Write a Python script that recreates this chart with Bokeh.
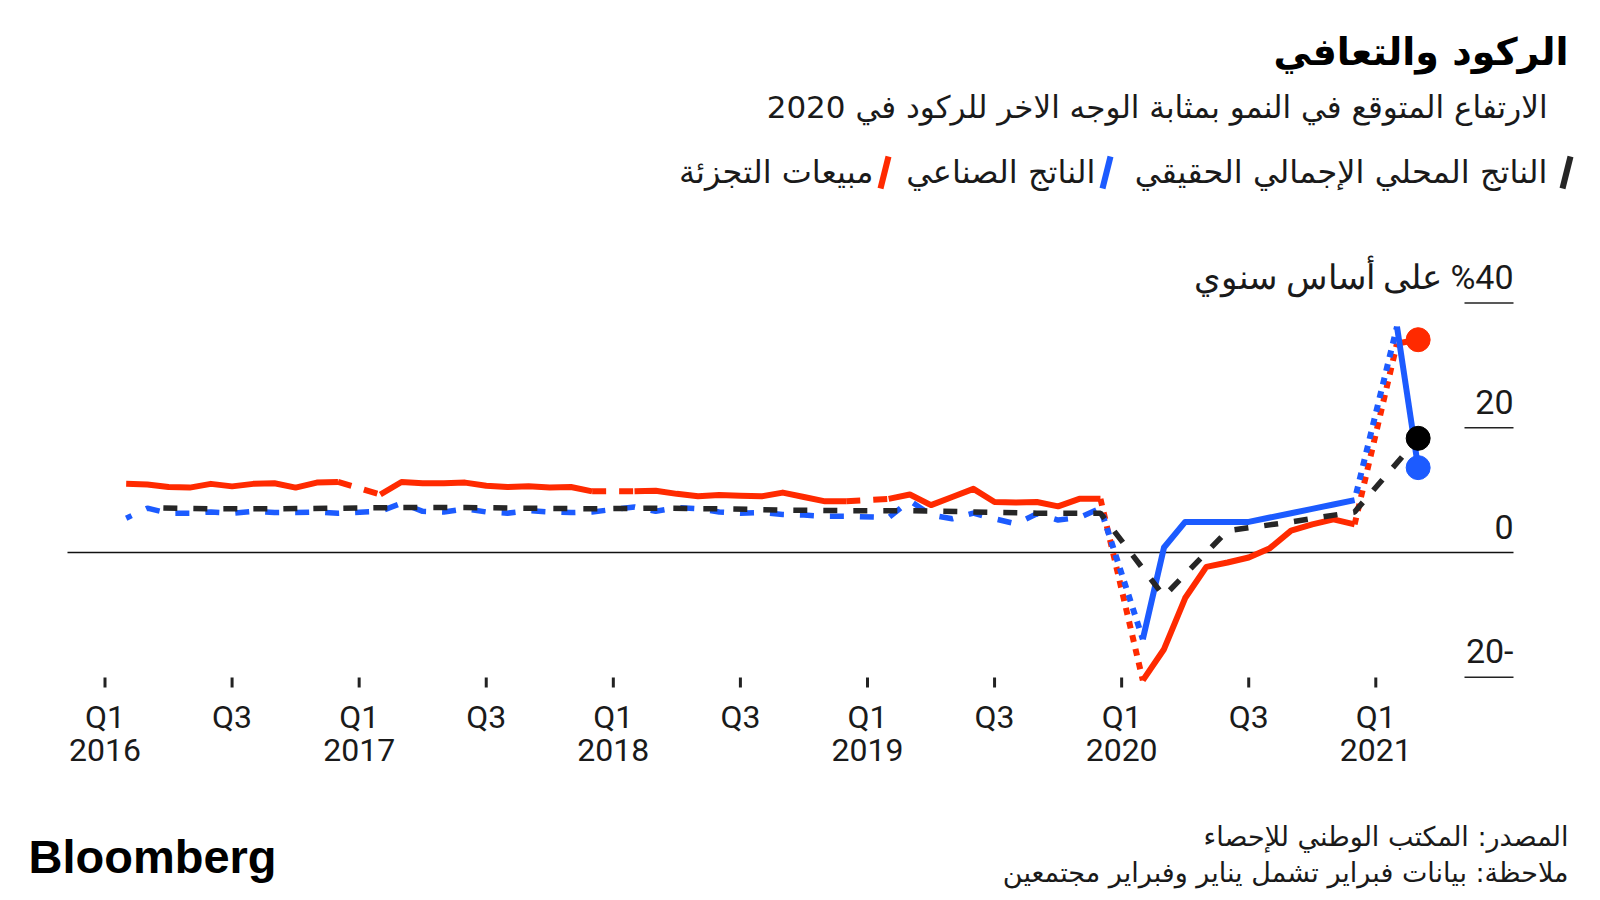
from bokeh.plotting import figure
from bokeh.models import Range1d
from bokeh.core.properties import value
from bokeh.embed import file_html
from bokeh.resources import INLINE

# ---------------- data ----------------
months = [
    "2016-02", "2016-03", "2016-04", "2016-05", "2016-06", "2016-07", "2016-08", "2016-09", "2016-10", "2016-11", "2016-12",
    "2017-02", "2017-03", "2017-04", "2017-05", "2017-06", "2017-07", "2017-08", "2017-09", "2017-10", "2017-11", "2017-12",
    "2018-02", "2018-03", "2018-04", "2018-05", "2018-06", "2018-07", "2018-08", "2018-09", "2018-10", "2018-11", "2018-12",
    "2019-02", "2019-03", "2019-04", "2019-05", "2019-06", "2019-07", "2019-08", "2019-09", "2019-10", "2019-11", "2019-12",
    "2020-02", "2020-03", "2020-04", "2020-05", "2020-06", "2020-07", "2020-08", "2020-09", "2020-10", "2020-11", "2020-12",
    "2021-02", "2021-03",
]
retail_sales = [
    11.0, 10.9, 10.5, 10.4, 11.0, 10.6, 11.0, 11.1, 10.4, 11.2, 11.3,
    9.3, 11.3, 11.1, 11.1, 11.2, 10.7, 10.5, 10.6, 10.4, 10.5, 9.8,
    9.8, 9.9, 9.4, 9.0, 9.2, 9.1, 9.0, 9.6, 8.9, 8.2, 8.2,
    8.6, 9.3, 7.6, 8.9, 10.2, 8.1, 8.0, 8.1, 7.4, 8.6, 8.6,
    -20.5, -15.5, -7.3, -2.3, -1.6, -0.8, 0.7, 3.5, 4.5, 5.3, 4.5,
    33.5, 34.1,
]
industrial_output = [
    5.5, 7.1, 6.3, 6.3, 6.5, 6.3, 6.6, 6.4, 6.4, 6.5, 6.3,
    6.6, 7.9, 6.6, 6.5, 7.0, 6.5, 6.3, 6.7, 6.5, 6.4, 6.5,
    7.3, 6.6, 7.2, 7.0, 6.5, 6.3, 6.4, 6.1, 6.0, 5.8, 5.8,
    5.6, 8.3, 6.0, 5.4, 6.3, 5.4, 4.6, 6.2, 5.2, 5.6, 7.1,
    -13.9, 0.8, 4.9, 4.9, 4.9, 4.9, 5.6, 6.3, 7.0, 7.7, 8.4,
    36.2, 13.6,
]
gdp_quarters = [
    "2016-03", "2016-06", "2016-09", "2016-12",
    "2017-03", "2017-06", "2017-09", "2017-12",
    "2018-03", "2018-06", "2018-09", "2018-12",
    "2019-03", "2019-06", "2019-09", "2019-12",
    "2020-03", "2020-06", "2020-09", "2020-12",
    "2021-03",
]
real_gdp = [
    7.2, 7.0, 7.0, 7.1,
    7.2, 7.2, 7.1, 7.0,
    7.1, 7.0, 6.8, 6.7,
    6.7, 6.5, 6.3, 6.3,
    -7.0, 3.5, 4.9, 6.5,
    18.3,
]
x_tick_months = ["2016-01", "2016-07", "2017-01", "2017-07", "2018-01", "2018-07",
                 "2019-01", "2019-07", "2020-01", "2020-07", "2021-01"]
x_tick_quarter = ["Q1", "Q3", "Q1", "Q3", "Q1", "Q3", "Q1", "Q3", "Q1", "Q3", "Q1"]
x_tick_year = ["2016", "", "2017", "", "2018", "", "2019", "", "2020", "", "2021"]
y_ticks = [40, 20, 0, -20]
y_unit = "على أساس سنوي"

title = "الركود والتعافي"
subtitle = "الارتفاع المتوقع في النمو بمثابة الوجه الاخر للركود في 2020"
legend_names = ["الناتج المحلي الإجمالي الحقيقي", "الناتج الصناعي", "مبيعات التجزئة"]
source = "المصدر: المكتب الوطني للإحصاء"
note = "ملاحظة: بيانات فبراير تشمل يناير وفبراير مجتمعين"

RED = "#ff2a00"
BLUE = "#1c5bff"
BLACK = "#262626"
TEXT = "#1a1a1a"

# ---------------- scales ----------------
W, H = 1600, 900
PX_PER_MONTH = 21.18
X_ORIGIN_PX = 104.5          # where month index 0 (Jan 2016) sits
PX_PER_UNIT = 6.24
ZERO_PX = 552.0
X0 = -X_ORIGIN_PX / PX_PER_MONTH
X1 = X0 + W / PX_PER_MONTH
Y1 = ZERO_PX / PX_PER_UNIT
Y0 = Y1 - H / PX_PER_UNIT


def mi(s):
    y, m = s.split("-")
    return (int(y) - 2016) * 12 + int(m) - 1


def tx(px):
    return X0 + px / PX_PER_MONTH


def ty(py):
    return Y1 - py / PX_PER_UNIT


p = figure(width=W, height=H, x_range=Range1d(X0, X1), y_range=Range1d(Y0, Y1),
           min_border=0, x_axis_location=None, y_axis_location=None,
           toolbar_location=None, output_backend="svg", title=None,
           outline_line_color=None, background_fill_color="white",
           border_fill_color="white")
p.xgrid.visible = False
p.ygrid.visible = False

# ---------------- gridlines / zero line ----------------
for v in y_ticks:
    if v == 0:
        p.segment(x0=[tx(67)], x1=[tx(1513)], y0=[v], y1=[v], line_color="#111111", line_width=1.5)
    else:
        p.segment(x0=[tx(1464)], x1=[tx(1513)], y0=[v], y1=[v], line_color="#222222", line_width=1.5)

y_labels = []
for v in y_ticks:
    if v == y_ticks[0]:
        y_labels.append("\u200f%" + str(v) + " " + y_unit)
    else:
        y_labels.append("\u200f" + str(v))
p.text(x=[tx(1513)] * len(y_ticks), y=y_ticks, text=y_labels, text_align="right",
       text_baseline="middle", y_offset=-26, text_font=value("Roboto"),
       text_font_size="34px", text_color=TEXT)

# ---------------- x ticks ----------------
xt = [mi(s) for s in x_tick_months]
p.segment(x0=xt, x1=xt, y0=[ty(677)] * len(xt), y1=[ty(687)] * len(xt),
          line_color="#222222", line_width=3)
p.text(x=xt, y=[ty(716)] * len(xt), text=x_tick_quarter, text_align="center",
       text_baseline="middle", text_font=value("Roboto"), text_font_size="32px", text_color=TEXT)
p.text(x=xt, y=[ty(749)] * len(xt), text=x_tick_year, text_align="center",
       text_baseline="middle", text_font=value("Roboto"), text_font_size="32px", text_color=TEXT)


# ---------------- series ----------------
def split_runs(mlist, vals):
    idx = [mi(s) for s in mlist]
    runs, bridges = [], []
    cx, cy = [idx[0]], [vals[0]]
    for i in range(1, len(idx)):
        if idx[i] - idx[i - 1] == 1:
            cx.append(idx[i]); cy.append(vals[i])
        else:
            runs.append((cx, cy))
            bridges.append(([idx[i - 1], idx[i]], [vals[i - 1], vals[i]]))
            cx, cy = [idx[i]], [vals[i]]
    runs.append((cx, cy))
    return runs, bridges


CUT = mi("2020-01")

# retail sales (red)
r_runs, r_bridges = split_runs(months, retail_sales)
p.multi_line(xs=[r[0] for r in r_runs], ys=[r[1] for r in r_runs], line_color=RED,
             line_width=6, line_join="round")
for bx, by in r_bridges:
    if bx[1] > CUT:
        p.line(bx, by, line_color=RED, line_width=6, line_dash="7 7")
    else:
        p.line(bx, by, line_color=RED, line_width=6, line_dash="14 13")

# industrial output (blue)
b_idx = [mi(s) for s in months]
pre_x = [m for m in b_idx if m < CUT]
pre_y = [v for m, v in zip(b_idx, industrial_output) if m < CUT]
p.line(pre_x, pre_y, line_color=BLUE, line_width=5.5, line_dash="14 16", line_dash_offset=8)
post_m = [s for s in months if mi(s) > CUT]
post_v = [v for s, v in zip(months, industrial_output) if mi(s) > CUT]
b_runs, b_bridges = split_runs(post_m, post_v)
p.multi_line(xs=[r[0] for r in b_runs], ys=[r[1] for r in b_runs], line_color=BLUE,
             line_width=6, line_join="round")
p.line([pre_x[-1], mi(post_m[0])], [pre_y[-1], post_v[0]], line_color=BLUE, line_width=6,
       line_dash="7 7", line_dash_offset=7)
for bx, by in b_bridges:
    p.line(bx, by, line_color=BLUE, line_width=6, line_dash="7 7", line_dash_offset=7)

# real GDP (black dashed)
g_x = [mi(s) for s in gdp_quarters]
p.line(g_x, real_gdp, line_color=BLACK, line_width=5.5, line_dash="14 16", line_dash_offset=14)

# end dots
p.scatter(x=[mi(months[-1])], y=[retail_sales[-1]], size=24, color=RED)
p.scatter(x=[g_x[-1]], y=[real_gdp[-1]], size=24, color="#000000")
p.scatter(x=[mi(months[-1])], y=[industrial_output[-1]], size=24, color=BLUE)

# ---------------- titles ----------------
AR = value("DejaVu Sans")
p.text(x=[tx(1568)], y=[ty(51)], text=[title], text_align="right", text_baseline="middle",
       text_font=AR, text_font_style="bold", text_font_size="38px", text_color="#000000")
p.text(x=[tx(1547)], y=[ty(106)], text=[subtitle], text_align="right", text_baseline="middle",
       text_font=AR, text_font_size="31px", text_color=TEXT)

# legend
leg_marks_px = [1566, 1106, 884]
leg_text_px = [1547, 1095, 873]
leg_colors = [BLACK, BLUE, RED]
for cx, col in zip(leg_marks_px, leg_colors):
    p.segment(x0=[tx(cx - 4)], y0=[ty(188)], x1=[tx(cx + 4)], y1=[ty(156)],
              line_color=col, line_width=6)
p.text(x=[tx(v) for v in leg_text_px], y=[ty(171)] * 3, text=legend_names,
       text_align="right", text_baseline="middle", text_font=AR,
       text_font_size="32px", text_color=TEXT)

# footer
p.text(x=[tx(1568), tx(1568)], y=[ty(836), ty(872)], text=[source, note],
       text_align="right", text_baseline="middle", text_font=AR,
       text_font_size="27px", text_color=TEXT)
p.text(x=[tx(28)], y=[ty(856)], text=["Bloomberg"], text_align="left",
       text_baseline="middle", text_font=value("Liberation Sans"),
       text_font_style="bold", text_font_size="47px", text_color="#000000")

open("out.html", "w").write(file_html(p, INLINE))
